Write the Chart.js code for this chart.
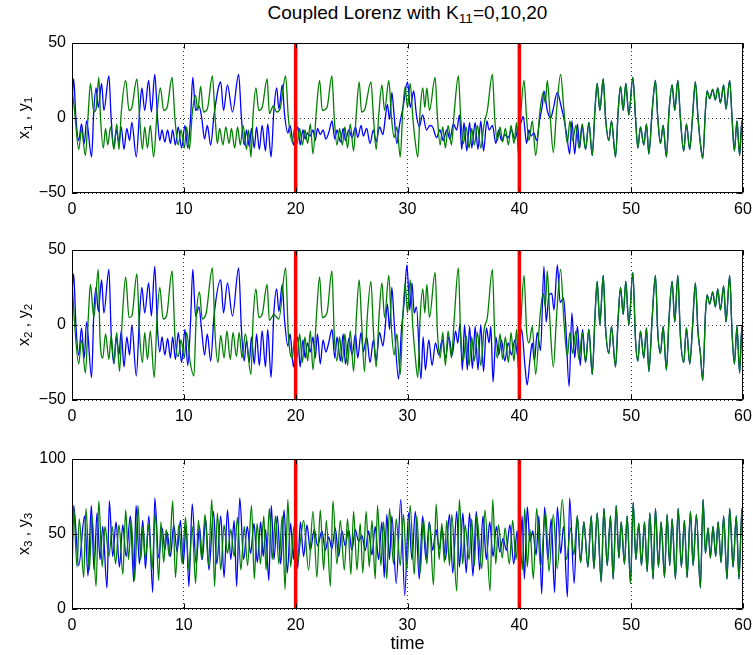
<!DOCTYPE html>
<html>
<head>
<meta charset="utf-8">
<script src="https://cdn.jsdelivr.net/npm/chart.js@4/dist/chart.umd.min.js"></script>
<style>
  body { margin: 0; background: #fff; width: 753px; height: 655px; position: relative; overflow: hidden;
         font-family: "Liberation Sans", Arial, sans-serif; color: #000; }
  canvas.panel { position: absolute; left: 0; }
  #title { position: absolute; left: 0; top: 2px; width: 815px; text-align: center; font-size: 19px; white-space: nowrap; }
  #xlab { position: absolute; left: 0; top: 633px; width: 815px; text-align: center; font-size: 18px; }
  .ylab { position: absolute; left: 24px; font-size: 16px; white-space: nowrap;
          transform: translate(-50%, -50%) rotate(-90deg); }
  sub { font-size: 0.72em; vertical-align: -0.3em; line-height: 0; }
</style>
</head>
<body>
<canvas id="p1" class="panel" width="753" height="192" style="top:31px"></canvas>
<canvas id="p2" class="panel" width="753" height="192" style="top:238px"></canvas>
<canvas id="p3" class="panel" width="753" height="192" style="top:447px"></canvas>
<div id="title">Coupled Lorenz with K<sub>11</sub>=0,10,20</div>
<div class="ylab" style="top:118px">x<sub>1</sub> , y<sub>1</sub></div>
<div class="ylab" style="top:325px">x<sub>2</sub> , y<sub>2</sub></div>
<div class="ylab" style="top:534px">x<sub>3</sub> , y<sub>3</sub></div>
<div id="xlab">time</div>
<script>
// coupling switches on at these times (K11 = 0 -> 10 -> 20)
const switchTimes = [20, 40];
const timeTicks = [0, 10, 20, 30, 40, 50, 60];
const xyTicks = [-50, 0, 50];
const zTicks = [0, 50, 100];

// [time, value] turning points of each trace
const y1 = [
  [0,20],[0.25,3],[0.6,-21],[0.85,-8],[1.2,-25],[1.45,3],[1.65,23],[1.95,4],[2.15,6],[2.4,27],[2.55,0],[2.8,-20],
  [3.0,-7],[3.2,-18],[3.45,-6],[3.75,-21],[4.0,-4],[4.2,-21],[4.4,3],[4.8,25],[5.1,5],[5.35,7],[5.8,26],[6.05,0],
  [6.3,-21],[6.5,-6],[6.75,-20],[7.0,-5],[7.3,-26],[7.6,3],[7.9,20],[8.2,5],[8.5,7],[8.95,27],[9.2,0],[9.5,-18],
  [9.75,-8],[10.05,-20],[10.25,-6],[10.5,-21],[10.75,3],[11.05,15],[11.25,5],[11.5,21],[11.75,4],[12.1,6],[12.55,28],
  [12.8,0],[13.0,-17],[13.2,-7],[13.5,-18],[13.75,-6],[14.05,-17],[14.25,-7],[14.55,-20],[14.8,-6],[15.05,-18],
  [15.3,-5],[15.6,-21],[15.8,-8],[16.0,-26],[16.2,3],[16.45,20],[16.7,5],[17.0,7],[17.45,26],[17.65,3],[18.0,8],
  [18.3,4],[18.6,6],[19.1,28],[19.35,0],[19.7,-16],[19.9,-7],
  [20.12,-17],[20.36,-7],[20.6,-18],[20.83,-8],[21.07,-17],[21.31,-4],[21.55,-24],[21.85,5],[22.14,25],[22.38,5],
  [22.8,7],[23.24,28],[23.45,0],[23.69,-18],[23.93,-7],[24.17,-18],[24.4,-6],[24.64,-20],[24.88,-4],[25.18,-22],
  [25.42,3],[25.68,24],[25.89,4],[26.19,6],[26.73,24],[26.96,0],[27.2,-21],[27.44,3],[27.71,22],[27.95,5],[28.33,25],
  [28.57,0],[28.81,-13],[29.05,-6],[29.35,-26],[29.58,5],[29.79,21],[30.0,7],[30.24,23],[30.48,0],[30.68,-15],
  [30.92,-26],[31.13,5],[31.37,20],[31.55,7],[31.73,20],[31.96,5],[32.47,27],[32.68,0],[32.92,-18],[33.15,-6],
  [33.39,-20],[33.63,-5],[33.93,-18],[34.17,3],[34.55,28],[34.76,0],[35.0,-17],[35.24,-6],[35.51,-20],[35.74,-7],
  [35.98,-18],[36.25,-5],[36.55,-20],[36.85,-4],[37.14,5],[37.59,29],[37.8,0],[38.04,-15],[38.27,-6],[38.51,-16],
  [38.75,-7],[39.02,-18],[39.26,-5],[39.52,-17],[39.76,-3],[39.91,-24],
  [40.15,5],[40.42,25],[40.65,0],[40.86,-15],[41.16,-2],[41.46,-25],[41.85,5],[42.14,17],[42.32,10],[42.5,25],
  [42.74,3],[43.04,-23],[43.33,5],[43.69,29],[43.99,5],[44.29,-17],[44.52,-2],[44.76,-15],[45.06,-5],[45.33,-20],
  [45.63,-4],[45.92,-21],[46.22,-3],[46.52,-25],[46.76,5],[46.96,23],[47.2,5],[47.5,26],[47.71,0],[48.0,-15],
  [48.24,-2],[48.6,-26],[48.84,5],[49.05,21],[49.29,5],[49.52,23],[49.79,2],[50.15,27],[50.39,0],[50.6,-20],
  [50.83,-6],[51.13,-18],[51.37,-4],[51.58,-24],[51.88,5],[52.17,25],[52.38,0],[52.62,-17],[52.86,-5],[53.15,-26],
  [53.39,5],[53.66,22],[53.9,5],[54.17,25],[54.4,0],[54.7,-22],[54.94,-4],[55.24,-21],[55.48,0],[55.74,24],
  [55.98,0],[56.19,-17],[56.4,-27],[56.64,5],[56.79,18],[57.02,13],[57.29,19],[57.53,12],[57.74,20],[57.98,10],
  [58.27,22],[58.48,6],[58.81,25],[59.02,0],[59.23,-22],[59.46,-2],[59.7,-25],[59.9,-2],[60,-20]
];
const x1Own = [
  [0,10],[0.15,26],[0.35,0],[0.6,-15],[0.85,-4],[1.1,-17],[1.3,-2],[1.75,-26],[1.95,5],[2.15,20],[2.35,7],[2.65,23],
  [2.85,5],[3.3,28],[3.5,0],[3.75,-20],[3.95,-8],[4.2,-16],[4.4,-6],[4.65,-21],[4.9,-7],[5.15,-15],[5.35,-3],
  [5.75,-26],[6.05,5],[6.25,20],[6.5,5],[6.85,25],[7.1,4],[7.4,29],[7.65,0],[7.85,-15],[8.05,-8],[8.3,-16],[8.55,-8],
  [8.8,-17],[9.0,-8],[9.25,-18],[9.5,-6],[9.8,-20],[10.1,-5],[10.35,-20],[10.6,0],[10.8,27],[11.05,5],[11.35,8],
  [11.6,0],[11.85,-14],[12.1,-5],[12.4,-18],[12.7,2],[13.3,24],[13.55,5],[13.9,22],[14.35,4],[14.9,29],[15.15,0],
  [15.4,-18],[15.6,-8],[15.85,-19],[16.05,-7],[16.3,-20],[16.5,-6],[16.75,-21],[17.0,-5],[17.3,-22],[17.5,-4],
  [17.8,-26],[18.05,5],[18.3,20],[18.5,6],[18.8,22],[19.0,3],[19.3,-10],[19.5,-5],[19.8,-18],[20.0,-10],
  [20.2,-6],[20.4,-18],[20.65,-8],[20.85,-14],[21.05,-10],[21.3,-12],[21.55,-8],[21.75,-15],[21.95,-7],[22.2,-11],
  [22.45,-8],[22.7,-14],[22.95,-10],[23.25,-2],[23.5,-14],[23.7,-8],[24.0,-16],[24.25,-7],[24.45,-15],[24.75,-8],
  [25.05,-13],[25.35,-6],[25.55,-13],[25.85,-5],[26.05,-12],[26.35,-7],[26.65,-17],[26.95,-8],[27.2,-16],[27.5,-6],
  [27.8,-11],[28.0,-1],[28.2,9],[28.4,-1],[28.6,17],[28.8,2],[29.05,-17],[29.3,-4],[29.6,7],[30.0,24],[30.25,7],
  [30.55,18],[30.8,2],[31.05,-6],[31.35,2],[31.7,-8],[32.0,-5],[32.25,-6],[32.6,-13],[32.9,-8],[33.2,-15],[33.5,-8],
  [33.8,-14],[34.1,-4],[34.4,-8],[34.65,2],[34.85,-21],[35.05,-3],[35.3,-22],[35.55,-3],[35.75,-20],[36.05,-3],
  [36.3,-21],[36.55,-2],[36.8,-22],[37.1,-2],[37.3,-8],[37.6,-5],[37.9,-17],[38.15,-8],[38.4,-15],[38.7,-11],
  [39.0,-13],[39.3,-8],[39.6,-14],[39.9,-6],
  [40.15,-3],[40.35,1],[40.65,-17],[40.85,-8],[41.05,-12],[41.3,-10],[41.55,-15],[41.8,-2],[42.05,8],[42.2,18],
  [42.5,5],[42.8,0],[43.0,5],[43.4,17],[43.7,9],[44.0,-1],[44.25,-12],[44.5,-24],[44.7,-2],[44.95,-24],[45.2,-4],
  [45.4,-20],[45.6,-5]
];

const y2 = [
  [0,30],[0.25,-1],[0.6,-26],[0.85,-10],[1.2,-32],[1.45,4],[1.65,27],[1.95,5],[2.35,37],[2.5,-8],[2.75,-22],[3.0,-6],
  [3.3,-23],[3.5,-7],[3.75,-25],[4.0,-5],[4.25,-31],[4.5,5],[4.8,32],[5.1,5],[5.35,6],[5.8,34],[6.05,-7],[6.3,-25],
  [6.5,-5],[6.75,-23],[7.0,-4],[7.35,-35],[7.6,4],[7.85,25],[8.15,4],[8.45,6],[8.95,36],[9.2,-7],[9.5,-21],[9.75,-10],
  [10.05,-22],[10.25,-5],[10.55,-24],[10.9,-34],[11.1,4],[11.4,22],[11.65,4],[12.0,8],[12.55,38],[12.8,-7],[13.05,-25],
  [13.3,-7],[13.6,-22],[13.85,-4],[14.15,-23],[14.4,-5],[14.7,-21],[14.95,-5],[15.2,-22],[15.5,-6],[16.0,-33],[16.2,5],
  [16.45,24],[16.7,5],[17.0,7],[17.45,27],[17.65,3],[18.05,7],[18.5,4],[19.1,38],[19.35,-7],[19.7,-22],[19.92,-8],
  [20.12,-22],[20.36,-6],[20.6,-25],[20.83,-8],[21.07,-24],[21.31,-4],[21.55,-30],[21.85,5],[22.14,32],[22.38,5],
  [22.8,8],[23.24,36],[23.45,-6],[23.69,-24],[23.93,-8],[24.17,-25],[24.4,-6],[24.64,-27],[24.88,-4],[25.18,-31],
  [25.42,4],[25.68,30],[25.89,3],[26.15,-31],[26.4,5],[26.73,29],[26.96,-5],[27.2,-28],[27.44,4],[27.71,28],[27.95,5],
  [28.33,33],[28.57,-3],[28.81,-20],[29.05,-6],[29.35,-33],[29.58,5],[29.79,28],[30.0,8],[30.24,30],[30.48,-2],
  [30.68,-20],[30.92,-35],[31.13,5],[31.37,24],[31.55,8],[31.73,27],[31.96,5],[32.47,35],[32.68,-5],[32.92,-22],
  [33.15,-5],[33.39,-27],[33.63,-4],[33.93,-22],[34.17,3],[34.55,38],[34.76,-10],[35.0,-24],[35.24,-7],[35.51,-27],
  [35.74,-8],[35.98,-24],[36.25,-5],[36.55,-27],[36.85,-3],[37.14,5],[37.59,37],[37.8,-6],[38.04,-22],[38.27,-6],
  [38.51,-23],[38.75,-8],[39.02,-25],[39.26,-5],[39.52,-24],[39.76,-3],[39.91,-30],
  [40.15,4],[40.42,33],[40.65,-4],[40.86,-12],[41.16,-1],[41.46,-33],[41.85,6],[42.14,21],[42.32,12],[42.5,36],
  [42.74,2],[43.04,-28],[43.33,6],[43.69,37],[43.99,2],[44.29,-21],[44.52,-5],[44.76,-19],[45.06,-4],[45.33,-23],
  [45.63,-5],[45.92,-25],[46.22,-3],[46.52,-33],[46.76,5],[46.96,29],[47.2,0],[47.5,33],[47.71,-2],[48.0,-19],
  [48.24,-1],[48.6,-28],[48.84,5],[49.05,25],[49.29,7],[49.52,29],[49.79,0],[50.15,35],[50.39,-10],[50.6,-24],
  [50.83,-4],[51.13,-22],[51.37,-2],[51.58,-31],[51.88,5],[52.17,33],[52.38,-5],[52.62,-19],[52.86,-1],[53.15,-30],
  [53.39,5],[53.66,29],[53.9,2],[54.17,33],[54.4,-7],[54.7,-25],[54.94,-2],[55.24,-26],[55.48,-2],[55.74,28],
  [55.98,-5],[56.19,-19],[56.4,-37],[56.64,7],[56.79,20],[57.02,14],[57.29,22],[57.53,12],[57.74,24],[57.98,10],
  [58.27,26],[58.48,2],[58.81,33],[59.02,-5],[59.23,-26],[59.46,-1],[59.7,-32],[59.9,-1],[60,-25]
];
const x2Own = [
  [0,20],[0.15,34],[0.35,0],[0.6,-20],[0.85,-2],[1.1,-22],[1.3,2],[1.75,-35],[1.95,8],[2.15,25],[2.35,9],[2.65,30],
  [2.85,8],[3.3,37],[3.5,-5],[3.75,-26],[3.95,-8],[4.2,-20],[4.4,-4],[4.65,-28],[4.9,-8],[5.15,-20],[5.35,0],
  [5.75,-34],[6.05,8],[6.25,25],[6.5,8],[6.85,28],[7.1,6],[7.4,39],[7.65,-3],[7.85,-18],[8.05,-8],[8.3,-20],[8.55,-9],
  [8.8,-22],[9.0,-8],[9.25,-23],[9.5,-5],[9.8,-25],[10.1,-3],[10.35,-27],[10.6,2],[10.8,37],[11.05,6],[11.35,12],
  [11.6,-4],[11.85,-20],[12.1,-6],[12.4,-24],[12.7,6],[13.3,30],[13.55,8],[13.9,28],[14.35,6],[14.9,38],[15.15,-3],
  [15.4,-24],[15.6,-10],[15.85,-25],[16.05,-8],[16.3,-26],[16.5,-6],[16.75,-27],[17.0,-4],[17.3,-28],[17.5,-3],
  [17.8,-35],[18.05,8],[18.3,24],[18.5,9],[18.8,27],[19.0,4],[19.3,-14],[19.5,-6],[19.8,-28],[20.0,-15],
  [20.2,-8],[20.4,-28],[20.65,-10],[20.85,-22],[21.05,-12],[21.3,-18],[21.55,-8],[21.75,-22],[21.95,-6],[22.2,-26],
  [22.45,-10],[22.7,-18],[22.95,-12],[23.25,-3],[23.5,-22],[23.7,-8],[24.0,-24],[24.25,-6],[24.45,-26],[24.75,-9],
  [25.05,-20],[25.35,-6],[25.55,-22],[25.85,-5],[26.05,-18],[26.35,-8],[26.65,-25],[26.95,-10],[27.2,-24],[27.5,-5],
  [27.8,-14],[28.0,-2],[28.2,14],[28.4,-3],[28.6,25],[28.8,3],[29.2,-36],[29.45,-4],[29.7,15],[29.95,40],[30.2,10],
  [30.4,28],[30.6,8],[30.8,12],[31.2,-36],[31.4,-8],[31.6,-30],[31.9,-10],[32.2,-27],[32.5,-12],[32.8,-20],[33.1,-10],
  [33.4,-22],[33.7,-8],[34.0,-20],[34.3,-4],[34.5,-12],[34.7,1],[34.9,-30],[35.1,0],[35.35,-30],[35.55,-1],[35.8,-29],
  [36.05,-1],[36.3,-30],[36.55,0],[36.8,-31],[37.05,-2],[37.3,-12],[37.45,-1],[37.65,-38],[37.9,-8],[38.15,-20],
  [38.4,-10],[38.7,-24],[39.0,-12],[39.3,-20],[39.6,-10],[39.9,-22],
  [40.2,-3],[40.5,-27],[40.7,-40],[40.95,-23],[41.15,-12],[41.35,-24],[41.6,-5],[41.9,-17],[42.2,39],[42.4,2],
  [42.65,20],[42.9,21],[43.1,10],[43.4,40],[43.65,15],[43.95,18],[44.15,0],[44.45,-41],[44.7,8],[44.95,-22],
  [45.2,-1],[45.45,-27],[45.65,-3]
];

const y3 = [
  [0,40],[0.15,67],[0.45,28],[0.65,60],[1.05,21],[1.25,67],[1.55,26],[1.8,62],[2.15,15],[2.4,72],[2.7,28],[2.95,55],
  [3.3,35],[3.6,55],[3.9,30],[4.2,56],[4.55,23],[4.8,66],[5.05,33],[5.3,59],[5.6,19],[5.9,69],[6.15,33],[6.35,55],
  [6.55,33],[6.85,56],[7.15,26],[7.45,64],[7.75,19],[7.95,58],[8.2,31],[8.42,53],[8.7,35],[9.0,72],[9.25,21],
  [9.55,56],[9.85,30],[10.15,61],[10.45,26],[10.75,55],[11.05,17],[11.3,59],[11.6,33],[11.9,63],[12.2,29],[12.5,73],
  [12.75,15],[13.0,64],[13.3,26],[13.6,56],[13.9,37],[14.2,53],[14.5,35],[14.8,61],[15.1,26],[15.4,55],[15.7,29],
  [16.05,69],[16.3,20],[16.55,57],[16.85,30],[17.15,62],[17.35,26],[17.65,67],[17.9,33],[18.2,62],[18.5,30],
  [18.8,62],[19.05,13],[19.3,73],[19.55,28],[19.85,55],
  [20.15,30],[20.42,45],[20.71,59],[21.16,26],[21.55,65],[21.9,21],[22.2,66],[22.5,26],[22.74,59],[23.1,15],
  [23.33,72],[23.69,30],[23.99,59],[24.35,26],[24.64,60],[24.94,23],[25.18,65],[25.48,26],[25.77,57],[26.0,24],
  [26.3,65],[26.58,28],[26.82,59],[27.11,20],[27.32,69],[27.62,29],[27.86,58],[28.15,20],[28.39,67],[28.75,30],
  [28.99,60],[29.35,29],[29.64,63],[29.94,26],[30.24,69],[30.6,23],[30.83,62],[31.13,24],[31.43,60],[31.73,30],
  [31.96,58],[32.32,16],[32.56,70],[32.83,33],[33.07,57],[33.3,31],[33.51,59],[33.75,29],[33.96,63],[34.4,12],
  [34.64,73],[34.94,30],[35.15,56],[35.51,33],[35.74,60],[35.98,29],[36.19,62],[36.64,27],[36.93,66],[37.38,12],
  [37.62,73],[37.89,30],[38.13,56],[38.48,34],[38.72,54],[39.11,30],[39.4,59],[39.7,33],[40.0,58],
  [40.27,26],[40.48,67],[40.71,28],[40.95,53],[41.25,20],[41.55,67],[41.9,28],[42.35,65],[42.65,25],[43.04,63],
  [43.39,27],[43.84,73],[44.23,33],[44.58,54],[44.88,36],[45.18,62],[45.48,31],[45.77,58],[46.13,28],[46.43,62],
  [46.67,27],[46.96,64],[47.32,18],[47.56,67],[47.86,29],[48.15,62],[48.39,20],[48.66,69],[48.9,34],[49.11,58],
  [49.4,30],[49.64,62],[49.94,17],[50.18,71],[50.42,33],[50.68,57],[50.92,29],[51.19,58],[51.43,25],[51.67,64],
  [51.96,20],[52.17,67],[52.44,28],[52.68,58],[52.98,21],[53.21,63],[53.45,29],[53.66,60],[53.96,20],[54.2,67],
  [54.49,28],[54.76,59],[55.0,21],[55.3,65],[55.54,29],[55.83,63],[56.19,14],[56.43,73],[56.64,37],[56.88,54],
  [57.08,34],[57.32,55],[57.56,35],[57.77,58],[58.04,31],[58.27,62],[58.57,20],[58.81,67],[59.11,28],[59.4,62],
  [59.64,20],[59.91,67],[60,60]
];
const x3Own = [
  [0,19],[0.15,69],[0.6,29],[1.13,62],[1.43,22],[1.73,69],[1.97,26],[2.24,64],[2.51,33],[2.75,55],[3.13,14],[3.34,72],
  [3.64,35],[3.94,58],[4.24,28],[4.54,56],[4.84,35],[5.22,62],[5.52,18],[5.73,69],[6.03,30],[6.33,59],[6.57,27],
  [6.87,62],[7.22,11],[7.4,74],[7.76,34],[8.06,54],[8.3,39],[8.51,51],[8.8,35],[9.1,56],[9.4,38],[9.7,59],[9.95,30],
  [10.2,56],[10.45,15],[10.75,70],[11.1,30],[11.4,55],[11.65,33],[11.95,60],[12.25,26],[12.65,65],[12.95,30],
  [13.3,62],[13.6,21],[13.9,66],[14.2,33],[14.5,59],[14.72,15],[15.0,74],[15.35,33],[15.67,55],[15.97,37],[16.27,57],
  [16.57,31],[16.87,58],[17.1,35],[17.31,53],[17.6,19],[17.82,69],[18.06,33],[18.36,62],[18.66,30],[18.96,66],
  [19.25,24],[19.55,57],[19.8,33],[19.97,64],
  [20.18,27],[20.42,58],[20.71,35],[21.01,56],[21.31,39],[21.67,53],[21.96,42],[22.35,52],[22.65,39],[22.95,48],
  [23.24,40],[23.54,54],[23.84,35],[24.14,52],[24.43,42],[24.73,53],[25.03,39],[25.33,53],[25.63,45],[25.92,49],
  [26.22,39],[26.52,52],[26.82,36],[27.11,55],[27.41,33],[27.71,58],[27.92,21],[28.15,63],[28.39,33],[28.6,62],
  [28.99,17],[29.4,73],[29.75,9],[30.1,64],[30.4,33],[30.7,65],[31.05,20],[31.35,62],[31.65,33],[31.95,58],
  [32.25,39],[32.55,53],[32.85,40],[33.1,54],[33.4,33],[33.75,63],[34.05,24],[34.4,65],[34.65,28],[34.95,64],
  [35.25,24],[35.55,64],[35.85,22],[36.15,65],[36.45,26],[36.75,62],[37.05,33],[37.35,58],[37.65,35],[37.95,55],
  [38.25,38],[38.55,47],[38.85,39],[39.15,56],[39.5,30],[39.8,52],[40.0,26],
  [40.25,62],[40.45,20],[40.71,68],[40.95,45],[41.2,52],[41.5,36],[41.75,62],[42.0,10],[42.26,68],[42.55,33],
  [42.85,60],[43.15,11],[43.4,68],[43.7,37],[43.95,55],[44.3,8],[44.5,74],[44.9,17],[45.18,62],[45.48,31]
];

// once the systems lock together the x trace follows the y trace
const x1 = x1Own.concat(y1.filter(p => p[0] > 45.7));
const x2 = x2Own.concat(y2.filter(p => p[0] > 45.7));
const x3 = x3Own.concat(y3.filter(p => p[0] > 45.5));

const FONT = { family: '"Liberation Sans", Arial, sans-serif', size: 16 };

// axes box with inward tick marks on all four sides
const frame = {
  id: 'frame',
  afterDraw(chart) {
    const { ctx, chartArea: a, scales } = chart;
    const L = Math.round(a.left) + 0.5, R = Math.round(a.right) - 0.5;
    const T = Math.round(a.top) + 0.5, B = Math.round(a.bottom) - 0.5;
    ctx.save();
    ctx.strokeStyle = '#000';
    ctx.lineWidth = 1;
    ctx.beginPath();
    ctx.rect(L, T, R - L, B - T);
    scales.x.ticks.forEach(t => {
      const px = Math.round(scales.x.getPixelForValue(t.value)) + 0.5;
      ctx.moveTo(px, B); ctx.lineTo(px, B - 5);
      ctx.moveTo(px, T); ctx.lineTo(px, T + 5);
    });
    scales.y.ticks.forEach(t => {
      const py = Math.round(scales.y.getPixelForValue(t.value)) + 0.5;
      ctx.moveTo(L, py); ctx.lineTo(L + 5, py);
      ctx.moveTo(R, py); ctx.lineTo(R - 5, py);
    });
    ctx.stroke();
    ctx.restore();
  }
};

function makePanel(id, blue, green, yMin, yMax, yTicks) {
  const trace = (data, color, order) => ({
    data, borderColor: color, borderWidth: 1.3, pointRadius: 0,
    cubicInterpolationMode: 'monotone', clip: 0, order
  });
  const redLines = switchTimes.map(t => ({
    data: [[t, yMin], [t, yMax]], borderColor: '#ff0000', borderWidth: 3.5,
    pointRadius: 0, clip: 0, order: 0
  }));
  return new Chart(document.getElementById(id), {
    type: 'line',
    data: { datasets: [...redLines, trace(green, '#008000', 1), trace(blue, '#0000ff', 2)] },
    options: {
      responsive: false,
      animation: false,
      devicePixelRatio: 1,
      layout: { padding: { top: 12, right: 10, left: 0, bottom: 0 } },
      plugins: { legend: { display: false }, tooltip: { enabled: false } },
      scales: {
        x: {
          type: 'linear', min: 0, max: 60,
          afterBuildTicks: s => { s.ticks = timeTicks.map(v => ({ value: v })); },
          // fixed band for the labels; end labels may spill into the side padding
          afterFit: s => { s.height = 30; s.paddingLeft = 0; s.paddingRight = 0; },
          ticks: { color: '#000', font: FONT, padding: 7, maxRotation: 0 },
          grid: { color: 'rgba(0,0,0,0.8)', drawTicks: false },
          border: { display: false, dash: [1, 3] }
        },
        y: {
          type: 'linear', min: yMin, max: yMax,
          afterBuildTicks: s => { s.ticks = yTicks.map(v => ({ value: v })); },
          afterFit: s => { s.width = 72; s.paddingTop = 0; s.paddingBottom = 0; },
          ticks: {
            color: '#000', font: FONT, padding: 6,
            callback: v => (v < 0 ? '\u2212' + Math.abs(v) : String(v))
          },
          grid: { color: 'rgba(0,0,0,0.8)', drawTicks: false },
          border: { display: false, dash: [1, 3] }
        }
      }
    },
    plugins: [frame]
  });
}

makePanel('p1', x1, y1, -50, 50, xyTicks);
makePanel('p2', x2, y2, -50, 50, xyTicks);
makePanel('p3', x3, y3, 0, 100, zTicks);
</script>
</body>
</html>
